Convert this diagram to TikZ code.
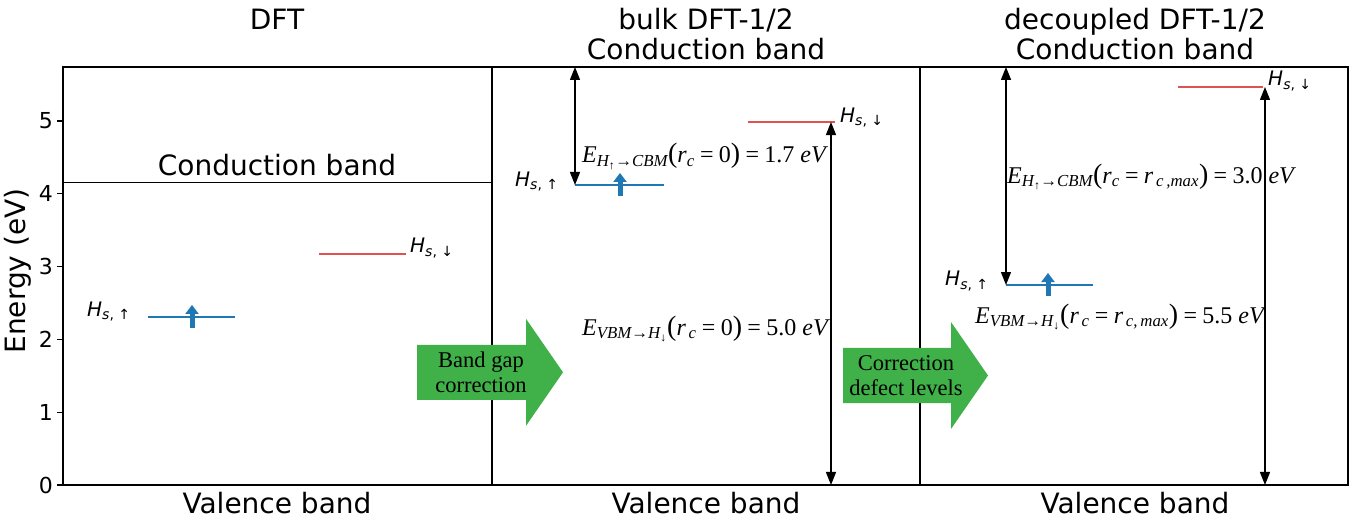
\documentclass[tikz,border=0pt]{standalone}
\usepackage{fontspec}
\setmainfont{DejaVu Sans}
\newfontfamily\seriffont{Liberation Serif}
\usetikzlibrary{arrows.meta}

\definecolor{azulNivel}{RGB}{31,119,180}
\definecolor{rojoNivel}{RGB}{222,82,82}
\definecolor{verdeFlecha}{RGB}{64,176,72}

\newcommand{\Hsup}{{\itshape H}\textsubscript{\itshape s\upshape, ↑}}
\newcommand{\Hsdown}{{\itshape H}\textsubscript{\itshape s\upshape, ↓}}
% parentesis y signo igual un poco mas grandes y espaciados
\newcommand{\parA}{{\fontsize{28}{28}\selectfont\upshape(}}
\newcommand{\parC}{{\fontsize{28}{28}\selectfont\upshape)}}
\newcommand{\igual}{\upshape\:=\:}

\begin{document}
\begin{tikzpicture}[
    x=1pt, y=72.8pt,
    titulo/.style={font=\fontsize{28}{30}\selectfont, anchor=base, inner sep=0pt},
    marca/.style={font=\fontsize{22}{24}\selectfont, anchor=east, inner sep=0pt},
    etiqueta/.style={font=\fontsize{20}{22}\selectfont, anchor=base west, inner sep=0pt},
    energia/.style={font=\seriffont\fontsize{24}{26}\selectfont, anchor=base west, inner sep=0pt},
    marco/.style={line width=1.2pt},
    nivelArriba/.style={color=azulNivel, line width=1.5pt},
    nivelAbajo/.style={color=rojoNivel, line width=1.5pt},
    flechaEspin/.style={-{Triangle[length=9pt,width=13pt]}, color=azulNivel, line width=5pt},
    flechaBrecha/.style={{Triangle[length=13pt,width=10pt]}-{Triangle[length=13pt,width=10pt]}, line width=1.3pt},
    flechaVerde/.style={fill=verdeFlecha},
    textoVerde/.style={font=\seriffont\fontsize{22.5}{25}\selectfont, align=center, inner sep=0pt}
]
    \useasboundingbox (-63,-0.4945) rectangle (1302,6.662);

    % --- EJES Y PANELES ---
    \coordinate (o)    at (0,0);
    \coordinate (tope) at (1285,5.742);
    \draw[marco] (o) rectangle (tope);
    \draw[marco] (429,0) -- (429,5.742);
    \draw[marco] (857,0) -- (857,5.742);

    \draw[marco] (-6,0) -- (0,0);
    \draw[marco] (-6,1) -- (0,1);
    \draw[marco] (-6,2) -- (0,2);
    \draw[marco] (-6,3) -- (0,3);
    \draw[marco] (-6,4) -- (0,4);
    \draw[marco] (-6,5) -- (0,5);
    \node[marca] (t0) at (-10,0) {0};
    \node[marca] (t1) at (-10,1) {1};
    \node[marca] (t2) at (-10,2) {2};
    \node[marca] (t3) at (-10,3) {3};
    \node[marca] (t4) at (-10,4) {4};
    \node[marca] (t5) at (-10,5) {5};
    \node[rotate=90, font=\fontsize{28}{30}\selectfont] (ejeY) at (-45,2.94) {Energy (eV)};

    % --- TITULOS ---
    \node[titulo] (tit1)  at (214,6.26)  {DFT};
    \node[titulo] (tit2)  at (643,6.26)  {bulk DFT-1/2};
    \node[titulo] (tit2b) at (643,5.838) {Conduction band};
    \node[titulo] (tit3)  at (1072,6.26)  {decoupled DFT-1/2};
    \node[titulo] (tit3b) at (1072,5.838) {Conduction band};

    \node[titulo] (val1) at (214,-0.385)  {Valence band};
    \node[titulo] (val2) at (643,-0.385)  {Valence band};
    \node[titulo] (val3) at (1072,-0.385) {Valence band};

    % --- PANEL 1: DFT ---
    \draw[marco] (0,4.16) -- (429,4.16);
    \node[titulo] (cb1) at (214,4.258) {Conduction band};

    \coordinate (up1a) at (85,2.308);
    \coordinate (up1b) at (172,2.308);
    \draw[nivelArriba] (up1a) -- (up1b);
    \coordinate (sp1a) at (129,2.157);
    \coordinate (sp1b) at (129,2.473);
    \draw[flechaEspin] (sp1a) -- (sp1b);
    \node[etiqueta] (hup1) at (24,2.321) {\Hsup};

    \coordinate (dn1a) at (256,3.173);
    \coordinate (dn1b) at (343,3.173);
    \draw[nivelAbajo] (dn1a) -- (dn1b);
    \node[etiqueta] (hdn1) at (347,3.187) {\Hsdown};

    % --- PANEL 2: BULK DFT-1/2 ---
    \coordinate (up2a) at (512,4.121);
    \coordinate (up2b) at (601,4.121);
    \draw[nivelArriba] (up2a) -- (up2b);
    \coordinate (sp2a) at (557,3.97);
    \coordinate (sp2b) at (557,4.286);
    \draw[flechaEspin] (sp2a) -- (sp2b);
    \node[etiqueta] (hup2) at (452,4.107) {\Hsup};

    \coordinate (dn2a) at (685,4.986);
    \coordinate (dn2b) at (772,4.986);
    \draw[nivelAbajo] (dn2a) -- (dn2b);
    \node[etiqueta] (hdn2) at (777,4.986) {\Hsdown};

    \coordinate (cbm2) at (512,5.742);
    \coordinate (vbm2) at (768,0);
    \coordinate (dn2f) at (768,4.986);
    \draw[flechaBrecha] (cbm2) -- (up2a);
    \draw[flechaBrecha] (vbm2) -- (dn2f);

    \node[energia] (e2a) at (519,4.423)
        {\itshape E\textsubscript{H\textsubscript{↑}→CBM}\parA\itshape r\textsubscript{c}\igual 0\parC\igual 1.7 \itshape eV};
    \node[energia] (e2b) at (519,2.06)
        {\itshape E\textsubscript{VBM→H\textsubscript{↓}}\parA\itshape r\textsubscript{\,c}\igual 0\parC\igual 5.0 \itshape eV};

    % --- PANEL 3: DECOUPLED DFT-1/2 ---
    \coordinate (up3a) at (943,2.747);
    \coordinate (up3b) at (1030,2.747);
    \draw[nivelArriba] (up3a) -- (up3b);
    \coordinate (sp3a) at (985,2.596);
    \coordinate (sp3b) at (985,2.912);
    \draw[flechaEspin] (sp3a) -- (sp3b);
    \node[etiqueta] (hup3) at (882,2.734) {\Hsup};

    \coordinate (dn3a) at (1115,5.467);
    \coordinate (dn3b) at (1200,5.467);
    \draw[nivelAbajo] (dn3a) -- (dn3b);
    \node[etiqueta] (hdn3) at (1205,5.481) {\Hsdown};

    \coordinate (cbm3) at (943,5.742);
    \coordinate (vbm3) at (1202,0);
    \coordinate (dn3f) at (1202,5.467);
    \draw[flechaBrecha] (cbm3) -- (up3a);
    \draw[flechaBrecha] (vbm3) -- (dn3f);

    \node[energia] (e3a) at (944,4.148)
        {\itshape E\textsubscript{H\textsubscript{↑}→CBM}\parA\itshape r\textsubscript{c}\igual\itshape r\textsubscript{\,c\,,max}\parC\igual 3.0 \itshape eV};
    \node[energia] (e3b) at (912,2.225)
        {\itshape E\textsubscript{VBM→H\textsubscript{↓}}\parA\itshape r\textsubscript{\,c}\igual\itshape r\textsubscript{\,c,\,max}\parC\igual 5.5 \itshape eV};

    % --- FLECHAS DE CORRECCION ---
    \fill[flechaVerde] (354,1.926) -- (463,1.926) -- (463,2.283) -- (500,1.548)
        -- (463,0.813) -- (463,1.170) -- (354,1.170) -- cycle;
    \node[textoVerde] (correccion1) at (418,1.55) {Band gap\\correction};

    \fill[flechaVerde] (780,1.882) -- (888,1.882) -- (888,2.239) -- (925,1.504)
        -- (888,0.769) -- (888,1.126) -- (780,1.126) -- cycle;
    \node[textoVerde] (correccion2) at (843,1.504) {Correction\\defect levels};

\end{tikzpicture}
\end{document}
